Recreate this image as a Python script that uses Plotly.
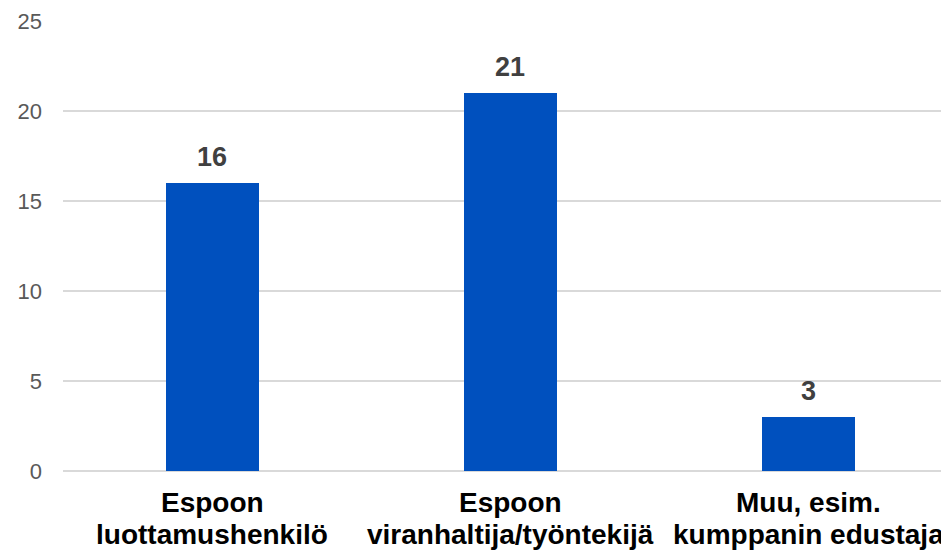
import plotly.graph_objects as go

categories = ["Espoon<br>luottamushenkilö", "Espoon<br>viranhaltija/työntekijä", "Muu, esim.<br>kumppanin edustaja"]
values = [16, 21, 3]
y_ticks = [0, 5, 10, 15, 20, 25]

fig = go.Figure()
fig.add_trace(go.Bar(
    x=categories, y=values, width=0.312,
    marker=dict(color="#0050BE", line=dict(width=0)),
    hoverinfo="skip",
))
for c, v in zip(categories, values):
    fig.add_annotation(x=c, y=v, text=f"<b>{v}</b>", showarrow=False,
                       yanchor="bottom", yshift=9,
                       font=dict(family="Liberation Sans, Arial", size=27, color="#404040"))
    # category label lines, placed with tight line spacing
    for i, line in enumerate(c.split("<br>")):
        fig.add_annotation(x=c, xref="x", y=0, yref="paper", text=f"<b>{line}</b>",
                           showarrow=False, yanchor="middle", yshift=-31 - 32 * i,
                           font=dict(family="Liberation Sans, Arial", size=28, color="#000000"))

fig.update_layout(
    width=941, height=542,
    margin=dict(l=55, r=0, t=13, b=79, autoexpand=False),
    paper_bgcolor="white", plot_bgcolor="white",
    showlegend=False,
    font=dict(family="Liberation Sans, Arial"),
    bargap=0,
)
fig.update_xaxes(
    range=[-0.5, 2.473], showgrid=False, showline=False, zeroline=False,
    showticklabels=False, ticks="", automargin=False,
)
fig.update_yaxes(
    range=[0, 25], tickvals=y_ticks, showgrid=True, gridcolor="#D9D9D9", gridwidth=1.5,
    zeroline=True, zerolinecolor="#D9D9D9", zerolinewidth=1.5, showline=False,
    tickfont=dict(family="Liberation Sans, Arial", size=22, color="#595959"),
    ticks="", ticklabelstandoff=20, automargin=False,
)
fig.write_html("out.html")
